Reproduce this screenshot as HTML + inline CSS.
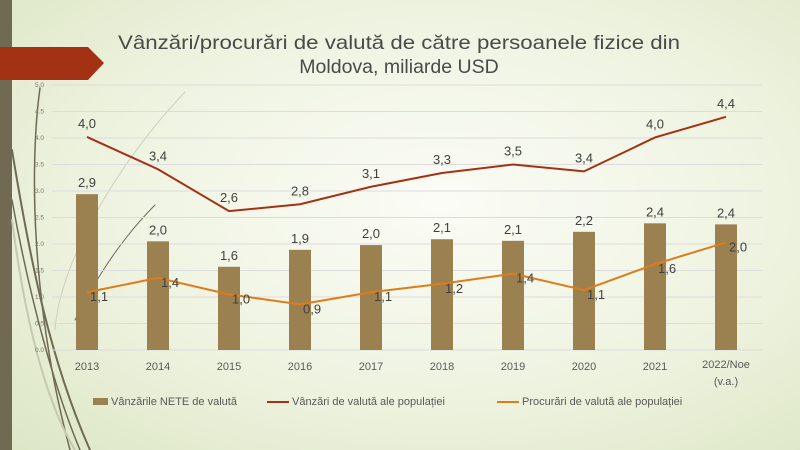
<!DOCTYPE html>
<html><head><meta charset="utf-8"><style>
html,body{margin:0;padding:0;width:800px;height:450px;overflow:hidden}
body{background:radial-gradient(ellipse at 55% 45%,#fbfcf6 0%,#eef3e0 55%,#dce6c4 100%);font-family:"Liberation Sans",sans-serif}
</style></head><body>
<svg id="s" width="800" height="450" xmlns="http://www.w3.org/2000/svg" style="position:absolute;left:0;top:0">
<rect x="0" y="0" width="12" height="450" fill="#706a52"/>
<g fill="none" stroke-linecap="round">
<path d="M40,88 C30,160 30,300 70,450" stroke="#706a52" stroke-width="1.5"/>
<path d="M12,150 C30,260 50,360 90,450" stroke="#706a52" stroke-width="2"/>
<path d="M12,200 C30,300 55,390 80,450" stroke="#706a52" stroke-width="1.5"/>
<path d="M12,220 C25,320 45,400 75,450" stroke="#c5c9b0" stroke-width="2"/>
<path d="M185,92 C120,160 60,260 55,330" stroke="#cdd0bd" stroke-width="1"/>
<path d="M155,205 C120,240 95,280 75,320" stroke="#706a52" stroke-width="1"/>
</g>
<polygon points="0,47 88,47 104,63 88,80 0,80" fill="#a33214"/>
<text x="399" y="49" font-size="19.5" fill="#4a4a4a" text-anchor="middle" textLength="562" lengthAdjust="spacingAndGlyphs">Vânzări/procurări de valută de către persoanele fizice din</text>
<text x="399" y="73" font-size="19.5" fill="#4a4a4a" text-anchor="middle">Moldova, miliarde USD</text>
<g id="c"></g>
</svg>
<script>
var g=document.getElementById('c'),h='';
function Y(v){return 350-v*53}
for(var i=0;i<=10;i++){var y=Y(i*0.5);h+='<line x1="52" x2="762" y1="'+y+'" y2="'+y+'" stroke="#dcdcdc" stroke-width="1"/>';
h+='<text x="44" y="'+(y+2)+'" font-size="6.5" fill="#777" text-anchor="end">'+(i*0.5).toFixed(1)+'</text>';}
var yrs=['2013','2014','2015','2016','2017','2018','2019','2020','2021','2022/Noe'];
var b=[2.94,2.05,1.57,1.89,1.98,2.09,2.06,2.23,2.39,2.37],bl=['2,9','2,0','1,6','1,9','2,0','2,1','2,1','2,2','2,4','2,4'];
var r=[4.02,3.41,2.62,2.75,3.08,3.34,3.5,3.37,4.01,4.4],rl=['4,0','3,4','2,6','2,8','3,1','3,3','3,5','3,4','4,0','4,4'];
var o=[1.09,1.36,1.05,0.86,1.09,1.25,1.44,1.13,1.62,2.03],ol=['1,1','1,4','1,0','0,9','1,1','1,2','1,4','1,1','1,6','2,0'];
var rp='',op='';
for(var i=0;i<10;i++){var x=87+i*71;
h+='<rect x="'+(x-11)+'" y="'+Y(b[i])+'" width="22" height="'+(b[i]*53)+'" fill="#9c8150"/>';
h+='<text x="'+x+'" y="'+(Y(b[i])-7)+'" font-size="13" fill="#404040" text-anchor="middle">'+bl[i]+'</text>';
h+='<text x="'+x+'" y="'+(i==9?368:370)+'" font-size="11" fill="#595959" text-anchor="middle">'+yrs[i]+'</text>';
rp+=(i?'L':'M')+x+','+Y(r[i]);op+=(i?'L':'M')+x+','+Y(o[i]);}
h+='<text x="726" y="385" font-size="11" fill="#595959" text-anchor="middle">(v.a.)</text>';
h+='<path d="'+rp+'" fill="none" stroke="#a33214" stroke-width="2"/>';
h+='<path d="'+op+'" fill="none" stroke="#e07b1a" stroke-width="2"/>';
for(var i=0;i<10;i++){var x=87+i*71;
h+='<text x="'+x+'" y="'+(Y(r[i])-9)+'" font-size="13" fill="#404040" text-anchor="middle">'+rl[i]+'</text>';
h+='<text x="'+(x+3)+'" y="'+(Y(o[i])+9)+'" font-size="13" fill="#404040">'+ol[i]+'</text>';}
h+='<rect x="93" y="398" width="15" height="7" fill="#9c8150"/><text x="111" y="405" font-size="11" fill="#595959">Vânzările NETE de valută</text>';
h+='<line x1="267" x2="289" y1="402" y2="402" stroke="#a33214" stroke-width="2"/><text x="292" y="405" font-size="11" fill="#595959">Vânzări de valută ale populației</text>';
h+='<line x1="497" x2="519" y1="402" y2="402" stroke="#e07b1a" stroke-width="2"/><text x="522" y="405" font-size="11" fill="#595959">Procurări de valută ale populației</text>';
g.innerHTML=h;
</script>
</body></html>
